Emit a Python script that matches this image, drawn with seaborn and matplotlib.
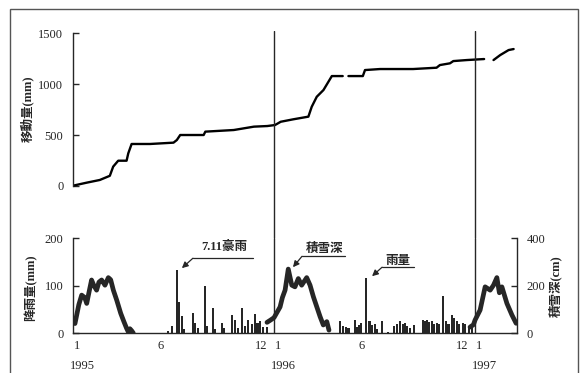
import numpy as np
import pandas as pd
import matplotlib
matplotlib.use("Agg")
import matplotlib.pyplot as plt
import matplotlib.transforms as mtransforms
from matplotlib.patches import Rectangle
import seaborn as sns

sns.set_theme(style="white")
plt.rcParams['font.family'] = ['Liberation Serif', 'Noto Sans CJK JP', 'DejaVu Sans']

# time axis: months since Jan 1995
# displacement (mm), three traced segments
disp_month = [0.0, 0.8, 1.6, 2.2, 2.4, 2.7, 3.2, 3.3, 3.5, 4.6, 6.0, 6.2, 6.4, 7.8, 7.9,
              9.6, 10.8, 11.6, 12.06, 12.4, 13.15, 14.05, 14.25, 14.55, 14.95, 15.45, 16.1,
              16.44, 17.3, 17.43, 18.33, 20.3, 21.7, 21.9, 22.5, 22.7, 23.5, 24.54,
              25.1, 25.5, 26.0, 26.3]
disp_mm = [3, 32, 59, 100, 190, 248, 248, 320, 412, 412, 425, 451, 500, 500, 533,
           549, 582, 588, 598, 630, 654, 680, 777, 875, 941, 1078, 1078,
           1078, 1078, 1137, 1147, 1147, 1160, 1186, 1203, 1225, 1235, 1245,
           1235, 1284, 1333, 1343]
disp_seg = [0] * 27 + [1] * 11 + [2] * 4

# snow depth (cm), one segment per winter
snow_month = [0.0, 0.12, 0.35, 0.52, 0.7, 0.82, 0.95, 1.11, 1.25, 1.41, 1.55, 1.71, 1.91,
              2.11, 2.25, 2.41, 2.61, 2.85, 3.04, 3.2, 3.3, 3.4, 3.5, 3.6,
              11.58, 11.8, 12.0, 12.2, 12.36, 12.5, 12.66, 12.85, 13.06, 13.25, 13.45,
              13.65, 13.95, 14.15, 14.35, 14.55, 14.75, 14.94, 15.15, 15.28,
              23.7, 23.9, 24.0, 24.3, 24.6, 24.9, 25.1, 25.3, 25.45, 25.6, 25.9, 26.2, 26.45]
snow_cm = [50, 40, 120, 160, 150, 125, 170, 224, 200, 181, 215, 224, 202,
           234, 225, 181, 139, 83, 48, 20, 5, 18, 10, 0,
           45, 55, 65, 90, 110, 150, 181, 270, 202, 195, 230,
           202, 234, 202, 153, 111, 69, 34, 48, 12,
           25, 35, 55, 97, 195, 181, 202, 234, 170, 195, 125, 76, 41]
snow_seg = [0] * 24 + [1] * 20 + [2] * 13

# rainfall (mm)
rain_month = [3.4, 3.5, 5.69, 5.89, 6.19, 6.33, 6.49, 6.6, 7.18, 7.28, 7.48, 7.88, 7.98,
              8.38, 8.5, 8.88, 8.98, 9.47, 9.67, 9.87, 10.07, 10.27, 10.47, 10.67, 10.87,
              11.01, 11.16, 11.36, 11.56,
              15.94, 16.1, 16.3, 16.44, 16.84, 16.98, 17.1, 17.2, 17.5, 17.7, 17.84, 18.03,
              18.17, 18.43, 18.8, 19.16, 19.36, 19.52, 19.68, 19.82, 19.96, 20.1, 20.36,
              20.88, 21.02, 21.15, 21.27, 21.41, 21.55, 21.71, 21.87, 22.07, 22.27, 22.41,
              22.6, 22.74, 22.9, 23.06, 23.26, 23.4, 23.66, 23.8]
rain_mm = [12, 8, 5, 15, 133, 65, 35, 8, 42, 22, 10, 100, 15,
           52, 8, 22, 10, 37, 28, 10, 52, 15, 28, 18, 40,
           22, 25, 12, 12,
           25, 14, 13, 11, 28, 13, 16, 21, 117, 25, 16, 18,
           9, 25, 3, 14, 20, 25, 18, 21, 14, 11, 16,
           28, 25, 28, 23, 25, 18, 21, 18, 78, 25, 20,
           39, 32, 25, 18, 21, 18, 14, 13]

month_ticks = list(range(0, 27))
month_labels = {0: '1', 5: '6', 11: '12', 12: '1', 17: '6', 23: '12', 24: '1'}
years = ['1995', '1996', '1997']
year_start = [0, 12, 24]

ink = '#262626'
disp = pd.DataFrame({'month': disp_month, 'mm': disp_mm, 'seg': disp_seg})
snow = pd.DataFrame({'month': snow_month, 'cm': snow_cm, 'seg': snow_seg})

fig = plt.figure(figsize=(5.81, 3.73), dpi=100)
ax_top = fig.add_axes([0.1256, 0.3611, 0.7642, 0.5558])
ax_bot = fig.add_axes([0.1256, 0.1072, 0.7642, 0.2539])
ax_snow = ax_bot.twinx()

# top panel: displacement
sns.lineplot(data=disp, x='month', y='mm', units='seg', estimator=None,
             color='black', linewidth=1.7, ax=ax_top, legend=False)
ax_top.set_xlim(0, 26.5)
ax_top.set_ylim(-513, 1520)
ax_top.set_yticks([0, 500, 1000, 1500])
ax_top.set_xticks([])
for s in ['top', 'right', 'bottom']:
    ax_top.spines[s].set_visible(False)
ax_top.spines['left'].set_bounds(0, 1500)
ax_top.set_xlabel('')
ax_top.set_ylabel('')

# bottom panel: rainfall bars + snow depth
ax_bot.bar(rain_month, rain_mm, width=0.13, color=ink, linewidth=0)
ax_bot.set_xlim(0, 26.5)
ax_bot.set_ylim(0, 200)
ax_bot.set_yticks([0, 100, 200])
ax_bot.set_xticks(month_ticks)
ax_bot.set_xticklabels([month_labels.get(m, '') for m in month_ticks])
ax_bot.spines['top'].set_visible(False)
ax_bot.spines['right'].set_visible(False)

sns.lineplot(data=snow, x='month', y='cm', units='seg', estimator=None,
             color=ink, linewidth=3.4, ax=ax_snow, legend=False)
ax_snow.set_ylim(0, 400)
ax_snow.set_yticks([0, 200, 400])
ax_snow.set_xlabel('')
ax_snow.set_ylabel('')
for s in ['top', 'left', 'bottom']:
    ax_snow.spines[s].set_visible(False)
ax_bot.set_xlabel('')
ax_bot.set_ylabel('')

for a in [ax_top, ax_bot, ax_snow]:
    for s in a.spines.values():
        s.set_color(ink)
        s.set_linewidth(1.0)
    a.tick_params(direction='in', length=4, width=1, colors=ink, labelsize=9, pad=7)
    a.set_facecolor('none')
ax_bot.tick_params(axis='x', pad=5)
ax_bot.tick_params(axis='y', left=True)
ax_top.tick_params(axis='y', left=True)
ax_snow.tick_params(axis='y', right=True)

shift = mtransforms.ScaledTranslation(0.04, 0, fig.dpi_scale_trans)
for lab in ax_bot.get_xticklabels():
    lab.set_transform(lab.get_transform() + shift)

# year boundaries
for a in [ax_top, ax_bot]:
    for m in [12, 24]:
        a.axvline(m, color=ink, linewidth=1.0)

# year labels
ytrans = mtransforms.blended_transform_factory(ax_bot.transData, fig.transFigure)
for y, m in zip(years, year_start):
    ax_bot.text(m + 0.55, 0.019, y, transform=ytrans, ha='center', va='center',
                fontsize=9, color=ink)

# annotations
notes = [('7.11豪雨', 9.0, 181, 7.16, 10.75, 158, 6.5, 137),
         ('積雪深', 15.0, 177, 13.67, 16.24, 162, 13.13, 139),
         ('雨量', 19.4, 152, 18.45, 20.36, 139, 17.85, 120)]
for txt, tx, ty, x0, x1, uy, ax_, ay in notes:
    ax_bot.text(tx, ty, txt, ha='center', va='center', fontsize=9, color=ink,
                fontweight='bold')
    ax_bot.plot([x0, x1], [uy, uy], color=ink, linewidth=0.9)
    ax_bot.annotate('', xy=(ax_, ay), xytext=(x0, uy),
                    arrowprops=dict(arrowstyle='-|>', color=ink, lw=0.9,
                                    mutation_scale=9, shrinkA=0, shrinkB=0))

# axis titles
fig.text(27 / 581, 1 - 109 / 373, '移動量(mm)', rotation=90, ha='center', va='center',
         fontsize=9, color=ink, fontweight='bold')
fig.text(31 / 581, 1 - 288 / 373, '降雨量(mm)', rotation=90, ha='center', va='center',
         fontsize=9, color=ink, fontweight='bold')
fig.text(555 / 581, 1 - 286 / 373, '積雪深(cm)', rotation=90, ha='center', va='center',
         fontsize=9, color=ink, fontweight='bold')

# outer frame
fig.patches.append(Rectangle((10 / 581, -0.02), 568 / 581, 1 - 9 / 373 + 0.02,
                             transform=fig.transFigure, fill=False, edgecolor='#555555',
                             linewidth=1.0))

fig.savefig('out.png', dpi=100)
